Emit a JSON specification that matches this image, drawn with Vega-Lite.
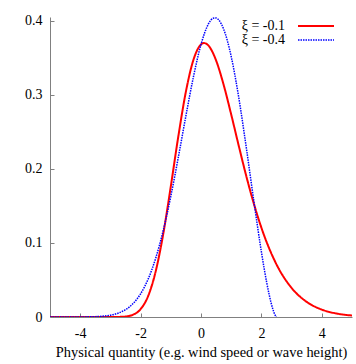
{
  "$schema": "https://vega.github.io/schema/vega-lite/v6.json",
  "width": 302,
  "height": 300,
  "autosize": {"type": "none"},
  "padding": {"left": 50, "top": 17, "right": 4, "bottom": 47},
  "background": "white",
  "config": {
    "view": {"stroke": null},
    "font": "Liberation Serif",
    "axis": {
      "grid": false,
      "domainColor": "#808080",
      "tickColor": "#808080",
      "labelColor": "black",
      "titleColor": "black",
      "labelFont": "Liberation Serif",
      "titleFont": "Liberation Serif",
      "labelFontSize": 14,
      "titleFontSize": 14.4,
      "titleFontWeight": "normal",
      "tickSize": -4
    }
  },
  "data": {
    "values": [
      {"x": -5, "y": 0, "s": "ξ = -0.1"},
      {"x": -3.5, "y": 0, "s": "ξ = -0.1"},
      {"x": -3, "y": 0.00001, "s": "ξ = -0.1"},
      {"x": -2.75, "y": 0.0001, "s": "ξ = -0.1"},
      {"x": -2.5, "y": 0.0007, "s": "ξ = -0.1"},
      {"x": -2.25, "y": 0.0031, "s": "ξ = -0.1"},
      {"x": -2, "y": 0.0106, "s": "ξ = -0.1"},
      {"x": -1.75, "y": 0.0283, "s": "ξ = -0.1"},
      {"x": -1.5, "y": 0.0616, "s": "ξ = -0.1"},
      {"x": -1.25, "y": 0.1122, "s": "ξ = -0.1"},
      {"x": -1, "y": 0.1763, "s": "ξ = -0.1"},
      {"x": -0.75, "y": 0.2441, "s": "ξ = -0.1"},
      {"x": -0.5, "y": 0.3043, "s": "ξ = -0.1"},
      {"x": -0.25, "y": 0.3472, "s": "ξ = -0.1"},
      {"x": 0, "y": 0.3679, "s": "ξ = -0.1"},
      {"x": 0.1, "y": 0.3698, "s": "ξ = -0.1"},
      {"x": 0.25, "y": 0.3663, "s": "ξ = -0.1"},
      {"x": 0.5, "y": 0.3463, "s": "ξ = -0.1"},
      {"x": 0.75, "y": 0.3134, "s": "ξ = -0.1"},
      {"x": 1, "y": 0.2734, "s": "ξ = -0.1"},
      {"x": 1.25, "y": 0.2311, "s": "ξ = -0.1"},
      {"x": 1.5, "y": 0.1902, "s": "ξ = -0.1"},
      {"x": 1.75, "y": 0.153, "s": "ξ = -0.1"},
      {"x": 2, "y": 0.1205, "s": "ξ = -0.1"},
      {"x": 2.5, "y": 0.071, "s": "ξ = -0.1"},
      {"x": 3, "y": 0.0392, "s": "ξ = -0.1"},
      {"x": 3.5, "y": 0.0204, "s": "ξ = -0.1"},
      {"x": 4, "y": 0.01, "s": "ξ = -0.1"},
      {"x": 4.5, "y": 0.0046, "s": "ξ = -0.1"},
      {"x": 5, "y": 0.002, "s": "ξ = -0.1"},
      {"x": -5, "y": 0, "s": "ξ = -0.4"},
      {"x": -4.5, "y": 0.00001, "s": "ξ = -0.4"},
      {"x": -4, "y": 0.00008, "s": "ξ = -0.4"},
      {"x": -3.5, "y": 0.0005, "s": "ξ = -0.4"},
      {"x": -3, "y": 0.0025, "s": "ξ = -0.4"},
      {"x": -2.75, "y": 0.0051, "s": "ξ = -0.4"},
      {"x": -2.5, "y": 0.0099, "s": "ξ = -0.4"},
      {"x": -2.25, "y": 0.0181, "s": "ξ = -0.4"},
      {"x": -2, "y": 0.0313, "s": "ξ = -0.4"},
      {"x": -1.75, "y": 0.0512, "s": "ξ = -0.4"},
      {"x": -1.5, "y": 0.0794, "s": "ξ = -0.4"},
      {"x": -1.25, "y": 0.1168, "s": "ξ = -0.4"},
      {"x": -1, "y": 0.1629, "s": "ξ = -0.4"},
      {"x": -0.75, "y": 0.2158, "s": "ξ = -0.4"},
      {"x": -0.5, "y": 0.2715, "s": "ξ = -0.4"},
      {"x": -0.25, "y": 0.3243, "s": "ξ = -0.4"},
      {"x": 0, "y": 0.3679, "s": "ξ = -0.4"},
      {"x": 0.25, "y": 0.3959, "s": "ξ = -0.4"},
      {"x": 0.4, "y": 0.4032, "s": "ξ = -0.4"},
      {"x": 0.5, "y": 0.4037, "s": "ξ = -0.4"},
      {"x": 0.6, "y": 0.4004, "s": "ξ = -0.4"},
      {"x": 0.75, "y": 0.3887, "s": "ξ = -0.4"},
      {"x": 1, "y": 0.3517, "s": "ξ = -0.4"},
      {"x": 1.25, "y": 0.2963, "s": "ξ = -0.4"},
      {"x": 1.5, "y": 0.2286, "s": "ξ = -0.4"},
      {"x": 1.75, "y": 0.1564, "s": "ξ = -0.4"},
      {"x": 2, "y": 0.0879, "s": "ξ = -0.4"},
      {"x": 2.1, "y": 0.0634, "s": "ξ = -0.4"},
      {"x": 2.25, "y": 0.0315, "s": "ξ = -0.4"},
      {"x": 2.375, "y": 0.0112, "s": "ξ = -0.4"},
      {"x": 2.45, "y": 0.0028, "s": "ξ = -0.4"},
      {"x": 2.5, "y": 0, "s": "ξ = -0.4"}
    ]
  },
  "mark": {"type": "line", "clip": true, "interpolate": "monotone"},
  "encoding": {
    "x": {
      "field": "x", "type": "quantitative",
      "scale": {"domain": [-5, 5], "nice": false, "zero": false},
      "axis": {"values": [-4, -2, 0, 2, 4], "labelExpr": "datum.value + ''", "labelPadding": 13, "title": "Physical quantity (e.g. wind speed or wave height)", "titlePadding": 5}
    },
    "y": {
      "field": "y", "type": "quantitative",
      "scale": {"domain": [0, 0.405], "nice": false},
      "axis": {"values": [0, 0.1, 0.2, 0.3, 0.4], "labelExpr": "datum.value == 0 ? '0' : format(datum.value, '.1f')", "labelPadding": 12, "title": null}
    },
    "color": {
      "field": "s", "type": "nominal",
      "scale": {"domain": ["ξ = -0.1", "ξ = -0.4"], "range": ["#ff0000", "#0000ff"]},
      "legend": {
        "title": null,
        "orient": "none",
        "legendX": 259,
        "legendY": 2,
        "padding": 0,
        "symbolType": "M-3,0H3",
        "symbolSize": 144,
        "symbolStrokeWidth": 1.8,
        "labelFont": "Liberation Serif",
        "labelFontSize": 14,
        "labelColor": "black",
        "labelAlign": "right",
        "labelOffset": -38,
        "rowPadding": -1
      }
    },
    "strokeDash": {
      "field": "s", "type": "nominal",
      "scale": {"domain": ["ξ = -0.1", "ξ = -0.4"], "range": [[1, 0], [1.5, 1]]},
      "legend": {
        "title": null,
        "orient": "none",
        "legendX": 259,
        "legendY": 2,
        "padding": 0,
        "symbolType": "M-3,0H3",
        "symbolSize": 144,
        "symbolStrokeWidth": 1.8,
        "labelFont": "Liberation Serif",
        "labelFontSize": 14,
        "labelColor": "black",
        "labelAlign": "right",
        "labelOffset": -38,
        "rowPadding": -1
      }
    },
    "strokeWidth": {
      "field": "s", "type": "nominal",
      "scale": {"domain": ["ξ = -0.1", "ξ = -0.4"], "range": [2, 1.5]},
      "legend": null
    }
  }
}
